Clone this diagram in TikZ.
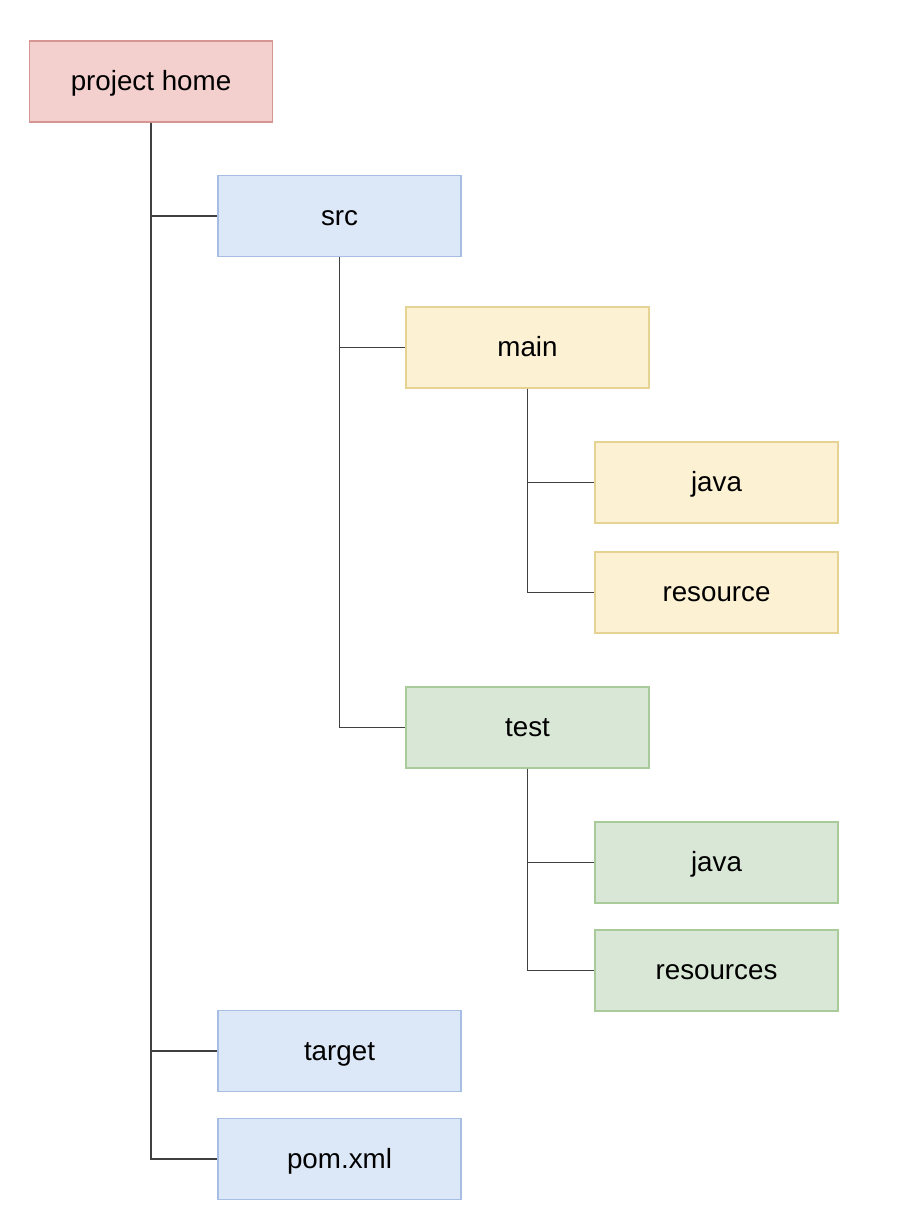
\documentclass[tikz,border=0pt]{standalone}
\usepackage{fontspec}
\setmainfont{Liberation Sans}
\usepackage{xcolor}
\usepackage{tikz}
\usetikzlibrary{
	positioning,    % posizionamento relativo
	calc
}

\definecolor{rossoFill}{HTML}{F3CFCE}
\definecolor{rossoLine}{HTML}{D49593}
\definecolor{bluFill}{HTML}{DCE7F8}
\definecolor{bluLine}{HTML}{A6BDE4}
\definecolor{gialloFill}{HTML}{FCF1D2}
\definecolor{gialloLine}{HTML}{E6D394}
\definecolor{verdeFill}{HTML}{D9E8D6}
\definecolor{verdeLine}{HTML}{A9CB99}

\begin{document}
\begin{tikzpicture}[
		x=0.02cm, y=-0.02cm,
		cartella/.style={rectangle, draw, line width=0.8pt, minimum width=4.86cm,
			minimum height=1.62cm, inner sep=0pt, text height=12pt, text depth=1.6pt,
			font=\fontsize{15.8}{19}\selectfont},
		radice/.style={cartella, fill=rossoFill, draw=rossoLine},
		blu/.style={cartella, fill=bluFill, draw=bluLine},
		giallo/.style={cartella, fill=gialloFill, draw=gialloLine},
		verde/.style={cartella, fill=verdeFill, draw=verdeLine},
		ramo/.style={draw=black!75, line width=0.85pt}
	]
	\useasboundingbox (0,0) rectangle (904,1212);
	
	% --- Cartelle ---
	\node[radice] (home) at (151,81.5) {project home};
	\node[blu] (src) at (339.5,216) {src};
	\node[giallo] (main) at (527.5,347.5) {main};
	\node[giallo] (mainJava) at (716.5,482.5) {java};
	\node[giallo] (mainRes) at (716.5,592.5) {resource};
	\node[verde] (test) at (527.5,727.5) {test};
	\node[verde] (testJava) at (716.5,862.5) {java};
	\node[verde] (testRes) at (716.5,970.5) {resources};
	\node[blu] (target) at (339.5,1051) {target};
	\node[blu] (pom) at (339.5,1159) {pom.xml};
	
	% --- Rami ---
	\draw[ramo] (home.south) |- (src.west);
	\draw[ramo] (home.south) |- (target.west);
	\draw[ramo] (home.south) |- (pom.west);
	\draw[ramo] (src.south) |- (main.west);
	\draw[ramo] (src.south) |- (test.west);
	\draw[ramo] (main.south) |- (mainJava.west);
	\draw[ramo] (main.south) |- (mainRes.west);
	\draw[ramo] (test.south) |- (testJava.west);
	\draw[ramo] (test.south) |- (testRes.west);
	
\end{tikzpicture}
\end{document}
